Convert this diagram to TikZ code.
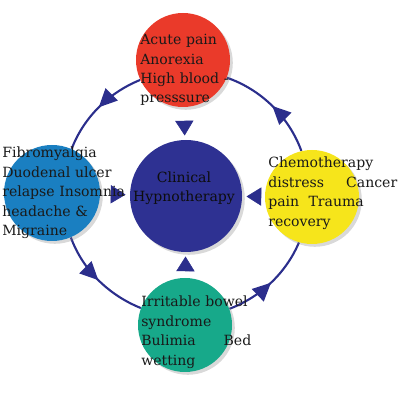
\documentclass[tikz,border=0pt]{standalone}
\usepackage{fontspec}
\setmainfont{DejaVu Serif}
\usetikzlibrary{arrows.meta,shadows,decorations.markings,backgrounds}

\definecolor{hubblue}{HTML}{2E3192}
\definecolor{ringblue}{HTML}{2B2E8C}
\definecolor{painred}{HTML}{EA3A2A}
\definecolor{fibroblue}{HTML}{1A7FC1}
\definecolor{chemoyellow}{HTML}{F6E51B}
\definecolor{bowelgreen}{HTML}{17A98A}

\begin{document}
\begin{tikzpicture}[
        bubble/.style={circle, minimum size=2.35cm, inner sep=0pt,
            drop shadow={opacity=0.3, shadow xshift=0.07cm, shadow yshift=-0.07cm}},
        txt/.style={anchor=north west, inner sep=0pt, align=left, text=black!90,
            font=\fontsize{10}{13.8}\selectfont},
        ring/.style={ringblue, line width=1.5pt, looseness=0.89, postaction={decorate},
            decoration={markings, mark=at position 0.5 with {\arrow{Triangle[length=13pt,width=12pt]}}}},
        spoke/.style={ringblue, postaction={decorate},
            decoration={markings, mark=at position -3pt with {\arrow{Triangle[length=10.5pt,width=13pt]}}}}
    ]
        \useasboundingbox (0,0) rectangle (10,10);

        % circles
        \node[bubble, fill=hubblue, minimum size=2.8cm] (hub) at (4.65, 5.1) {};
        \node[bubble, fill=painred] (pain) at (4.575, 8.5) {};
        \node[bubble, fill=fibroblue, minimum size=2.4cm] (fibro) at (1.3, 5.175) {};
        \node[bubble, fill=chemoyellow] (chemo) at (7.8, 5.075) {};
        \node[bubble, fill=bowelgreen] (bowel) at (4.625, 1.875) {};

        % outer ring
        \begin{scope}[on background layer]
            \draw[ring] (pain.205) to[out=202, in=69] (fibro.66);
            \draw[ring] (fibro.293) to[out=290, in=158] (bowel.159);
            \draw[ring] (bowel.20) to[out=21, in=247] (chemo.254);
            \draw[ring] (chemo.103) to[out=110, in=341] (pain.338);
        \end{scope}

        % arrows to the centre
        \path[spoke] (pain) -- (hub);
        \path[spoke] (fibro) -- (hub);
        \path[spoke] (chemo) -- (hub);
        \path[spoke] (bowel) -- (hub);

        % texts
        \node[txt, text=black!95, anchor=center, align=center] (hubtxt) at (4.6, 5.3) {Clinical\\Hypnotherapy};
        \node[txt, text width=2.3cm] (paintxt) at (3.5, 9.15) {Acute pain\\Anorexia\\High blood -\\presssure};
        \node[txt, text width=3.2cm] (fibrotxt) at (0.05, 6.325) {Fibromyalgia\\Duodenal ulcer\\relapse Insomnia\\headache \&\\Migraine};
        \node[txt, text width=3.225cm] (chemotxt) at (6.7, 6.075) {Chemotherapy\\distress\hfill Cancer\\pain\ \ Trauma\\recovery};
        \node[txt, text width=2.75cm] (boweltxt) at (3.525, 2.6) {Irritable bowel\\syndrome\\Bulimia\hfill Bed\\wetting};

    \end{tikzpicture}
\end{document}
